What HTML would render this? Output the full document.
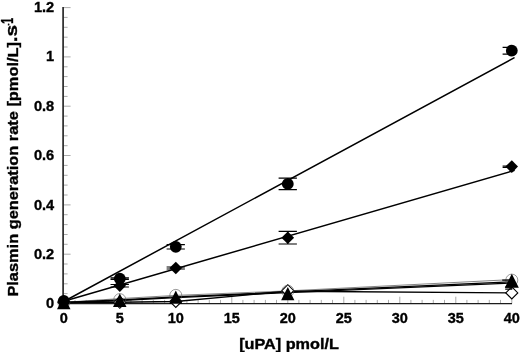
<!DOCTYPE html><html><head><meta charset="utf-8"><title>Plasmin generation rate</title>
<style>html,body{margin:0;padding:0;background:#fff;overflow:hidden}svg{display:block}text{font-family:"Liberation Sans",sans-serif;font-weight:bold;fill:#000;stroke:#000;stroke-width:0.35}</style></head><body>
<svg width="520" height="352" viewBox="0 0 520 352">
<rect width="520" height="352" fill="#fff"/>
<g stroke="#888" stroke-width="0.7">
<line x1="63.1" y1="303.5" x2="70.6" y2="303.5"/>
<line x1="63.1" y1="293.6" x2="67.6" y2="293.6"/>
<line x1="63.1" y1="283.8" x2="67.6" y2="283.8"/>
<line x1="63.1" y1="273.9" x2="67.6" y2="273.9"/>
<line x1="63.1" y1="264.0" x2="67.6" y2="264.0"/>
<line x1="63.1" y1="254.2" x2="70.6" y2="254.2"/>
<line x1="63.1" y1="244.3" x2="67.6" y2="244.3"/>
<line x1="63.1" y1="234.5" x2="67.6" y2="234.5"/>
<line x1="63.1" y1="224.6" x2="67.6" y2="224.6"/>
<line x1="63.1" y1="214.7" x2="67.6" y2="214.7"/>
<line x1="63.1" y1="204.9" x2="70.6" y2="204.9"/>
<line x1="63.1" y1="195.0" x2="67.6" y2="195.0"/>
<line x1="63.1" y1="185.1" x2="67.6" y2="185.1"/>
<line x1="63.1" y1="175.3" x2="67.6" y2="175.3"/>
<line x1="63.1" y1="165.4" x2="67.6" y2="165.4"/>
<line x1="63.1" y1="155.5" x2="70.6" y2="155.5"/>
<line x1="63.1" y1="145.7" x2="67.6" y2="145.7"/>
<line x1="63.1" y1="135.8" x2="67.6" y2="135.8"/>
<line x1="63.1" y1="125.9" x2="67.6" y2="125.9"/>
<line x1="63.1" y1="116.1" x2="67.6" y2="116.1"/>
<line x1="63.1" y1="106.2" x2="70.6" y2="106.2"/>
<line x1="63.1" y1="96.4" x2="67.6" y2="96.4"/>
<line x1="63.1" y1="86.5" x2="67.6" y2="86.5"/>
<line x1="63.1" y1="76.6" x2="67.6" y2="76.6"/>
<line x1="63.1" y1="66.8" x2="67.6" y2="66.8"/>
<line x1="63.1" y1="56.9" x2="70.6" y2="56.9"/>
<line x1="63.1" y1="47.0" x2="67.6" y2="47.0"/>
<line x1="63.1" y1="37.2" x2="67.6" y2="37.2"/>
<line x1="63.1" y1="27.3" x2="67.6" y2="27.3"/>
<line x1="63.1" y1="17.4" x2="67.6" y2="17.4"/>
<line x1="63.1" y1="7.6" x2="70.6" y2="7.6"/>
<line x1="63.8" y1="303.5" x2="63.8" y2="296.7"/>
<line x1="75.0" y1="303.5" x2="75.0" y2="299.9"/>
<line x1="86.2" y1="303.5" x2="86.2" y2="299.9"/>
<line x1="97.3" y1="303.5" x2="97.3" y2="299.9"/>
<line x1="108.5" y1="303.5" x2="108.5" y2="299.9"/>
<line x1="119.8" y1="303.5" x2="119.8" y2="296.7"/>
<line x1="130.9" y1="303.5" x2="130.9" y2="299.9"/>
<line x1="142.1" y1="303.5" x2="142.1" y2="299.9"/>
<line x1="153.3" y1="303.5" x2="153.3" y2="299.9"/>
<line x1="164.6" y1="303.5" x2="164.6" y2="299.9"/>
<line x1="175.8" y1="303.5" x2="175.8" y2="296.7"/>
<line x1="186.9" y1="303.5" x2="186.9" y2="299.9"/>
<line x1="198.1" y1="303.5" x2="198.1" y2="299.9"/>
<line x1="209.3" y1="303.5" x2="209.3" y2="299.9"/>
<line x1="220.5" y1="303.5" x2="220.5" y2="299.9"/>
<line x1="231.8" y1="303.5" x2="231.8" y2="296.7"/>
<line x1="242.9" y1="303.5" x2="242.9" y2="299.9"/>
<line x1="254.1" y1="303.5" x2="254.1" y2="299.9"/>
<line x1="265.4" y1="303.5" x2="265.4" y2="299.9"/>
<line x1="276.5" y1="303.5" x2="276.5" y2="299.9"/>
<line x1="287.8" y1="303.5" x2="287.8" y2="296.7"/>
<line x1="298.9" y1="303.5" x2="298.9" y2="299.9"/>
<line x1="310.1" y1="303.5" x2="310.1" y2="299.9"/>
<line x1="321.3" y1="303.5" x2="321.3" y2="299.9"/>
<line x1="332.5" y1="303.5" x2="332.5" y2="299.9"/>
<line x1="343.8" y1="303.5" x2="343.8" y2="296.7"/>
<line x1="354.9" y1="303.5" x2="354.9" y2="299.9"/>
<line x1="366.1" y1="303.5" x2="366.1" y2="299.9"/>
<line x1="377.3" y1="303.5" x2="377.3" y2="299.9"/>
<line x1="388.5" y1="303.5" x2="388.5" y2="299.9"/>
<line x1="399.8" y1="303.5" x2="399.8" y2="296.7"/>
<line x1="410.9" y1="303.5" x2="410.9" y2="299.9"/>
<line x1="422.1" y1="303.5" x2="422.1" y2="299.9"/>
<line x1="433.3" y1="303.5" x2="433.3" y2="299.9"/>
<line x1="444.5" y1="303.5" x2="444.5" y2="299.9"/>
<line x1="455.8" y1="303.5" x2="455.8" y2="296.7"/>
<line x1="466.9" y1="303.5" x2="466.9" y2="299.9"/>
<line x1="478.1" y1="303.5" x2="478.1" y2="299.9"/>
<line x1="489.3" y1="303.5" x2="489.3" y2="299.9"/>
<line x1="500.5" y1="303.5" x2="500.5" y2="299.9"/>
<line x1="511.8" y1="303.5" x2="511.8" y2="296.7"/>
</g>
<line x1="63.1" y1="7.1" x2="63.1" y2="304.3" stroke="#2a2a2a" stroke-width="1.7"/>
<line x1="62.3" y1="303.6" x2="512.0" y2="303.6" stroke="#1c1c1c" stroke-width="1.3"/>
<g font-size="14.6" text-anchor="end">
<text x="54.2" y="308.4">0</text>
<text x="54.2" y="259.0">0.2</text>
<text x="54.2" y="209.5">0.4</text>
<text x="54.2" y="160.1">0.6</text>
<text x="54.2" y="110.6">0.8</text>
<text x="54.2" y="61.2">1</text>
<text x="54.2" y="11.8">1.2</text>
</g>
<g font-size="14.5" text-anchor="middle">
<text x="63.8" y="322.6">0</text>
<text x="119.8" y="322.6">5</text>
<text x="175.8" y="322.6">10</text>
<text x="231.8" y="322.6">15</text>
<text x="287.8" y="322.6">20</text>
<text x="343.8" y="322.6">25</text>
<text x="399.8" y="322.6">30</text>
<text x="455.8" y="322.6">35</text>
<text x="511.8" y="322.6">40</text>
</g>
<text transform="translate(289,348.6) scale(1.12,1)" font-size="14.5" text-anchor="middle">[uPA] pmol/L</text>
<text transform="translate(17.7,296.6) rotate(-90) scale(1.129,1)" font-size="14.5">Plasmin generation rate [pmol/L]</text>
<text transform="translate(17.3,42.3) rotate(-90) scale(1.2,1)" font-size="17.3">.s</text>
<text transform="translate(13.3,25.6) rotate(-90) scale(0.62,1)" font-size="17"><tspan font-size="9" dy="-2">-</tspan><tspan dy="2">1</tspan></text>
<line x1="63.8" y1="301.5" x2="514.0" y2="57.9" stroke="#000" stroke-width="1.5" stroke-linecap="round"/>
<line x1="63.8" y1="301.3" x2="514.0" y2="170.5" stroke="#000" stroke-width="1.5" stroke-linecap="round"/>
<polyline points="63.8,302.3 119.8,298.6 175.8,295.4 287.8,290.9 511.8,279.6" fill="none" stroke="#666" stroke-width="0.8" stroke-linejoin="round"/>
<polyline points="63.8,302.5 119.8,300.0 175.8,296.8 287.8,291.9 511.8,281.8" fill="none" stroke="#000" stroke-width="1.3" stroke-linejoin="round"/>
<polyline points="63.8,303.0 119.8,300.5 175.8,297.6 287.8,292.6 511.8,283.0" fill="none" stroke="#000" stroke-width="1.3" stroke-linejoin="round"/>
<polyline points="63.8,302.3 119.8,302.3 175.8,301.5 287.8,291.2 511.8,292.9" fill="none" stroke="#000" stroke-width="1.4" stroke-linejoin="round"/>
<path d="M57.8 302.3L63.8 296.3L69.8 302.3L63.8 308.3Z" fill="#fff" stroke="#000" stroke-width="1.1"/>
<path d="M113.8 302.3L119.8 296.3L125.8 302.3L119.8 308.3Z" fill="#fff" stroke="#000" stroke-width="1.1"/>
<path d="M169.8 301.5L175.8 295.5L181.8 301.5L175.8 307.5Z" fill="#fff" stroke="#000" stroke-width="1.1"/>
<path d="M281.8 290.7L287.8 284.7L293.8 290.7L287.8 296.7Z" fill="#fff" stroke="#000" stroke-width="1.1"/>
<path d="M505.8 292.9L511.8 286.9L517.8 292.9L511.8 298.9Z" fill="#fff" stroke="#000" stroke-width="1.1"/>
<circle cx="63.8" cy="302.3" r="6.0" fill="none" stroke="#555" stroke-width="0.6"/>
<circle cx="119.8" cy="299.6" r="6.0" fill="none" stroke="#555" stroke-width="0.6"/>
<circle cx="175.8" cy="295.4" r="6.0" fill="none" stroke="#555" stroke-width="0.6"/>
<circle cx="287.8" cy="291.2" r="6.0" fill="none" stroke="#555" stroke-width="0.6"/>
<circle cx="511.8" cy="280.1" r="6.0" fill="none" stroke="#555" stroke-width="0.6"/>
<path d="M502.2 280.1H512.2M502.2 280.1H512.2M511.8 280.1V280.1" stroke="#000" stroke-width="1.2" fill="none"/>
<path d="M505.2 287.2H512.2M505.2 289.2H512.2M511.8 287.2V289.2" stroke="#000" stroke-width="1.2" fill="none"/>
<path d="M57.0 309.2L63.8 295.8L70.5 309.2Z" fill="#000"/>
<path d="M113.0 307.0L119.8 293.6L126.5 307.0Z" fill="#000"/>
<path d="M169.2 303.7L175.8 290.5L182.3 303.7Z" fill="#000"/>
<path d="M281.1 300.2L287.8 287.0L294.4 300.2Z" fill="#000"/>
<path d="M504.8 287.8L511.8 273.8L518.8 287.8Z" fill="#000"/>
<path d="M57.5 301.5L63.8 295.2L70.0 301.5L63.8 307.8Z" fill="#000"/>
<path d="M110.5 284.5H128.9M110.5 287.0H128.9M119.8 284.5V287.0" stroke="#000" stroke-width="1.2" fill="none"/>
<path d="M113.5 285.7L119.8 279.4L126.0 285.7L119.8 292.0Z" fill="#000"/>
<path d="M166.6 267.0H184.9M166.6 269.0H184.9M175.8 267.0V269.0" stroke="#000" stroke-width="1.2" fill="none"/>
<path d="M169.4 268.0L175.8 261.7L182.1 268.0L175.8 274.3Z" fill="#000"/>
<path d="M278.6 231.3H296.9M278.6 244.0H296.9M287.8 231.3V244.0" stroke="#000" stroke-width="1.2" fill="none"/>
<path d="M281.4 237.7L287.8 231.4L294.1 237.7L287.8 244.0Z" fill="#000"/>
<path d="M502.6 166.0H512.2M502.6 167.3H512.2M511.8 166.0V167.3" stroke="#000" stroke-width="1.2" fill="none"/>
<path d="M505.4 166.6L511.8 160.3L518.0 166.6L511.8 172.9Z" fill="#000"/>
<circle cx="63.8" cy="301.0" r="5.9" fill="#000"/>
<path d="M110.5 277.9H128.9M110.5 279.3H128.9M119.8 277.9V279.3" stroke="#000" stroke-width="1.2" fill="none"/>
<circle cx="119.8" cy="278.6" r="5.9" fill="#000"/>
<path d="M166.6 244.6H184.9M166.6 249.0H184.9M175.8 244.6V249.0" stroke="#000" stroke-width="1.2" fill="none"/>
<circle cx="175.8" cy="246.8" r="5.9" fill="#000"/>
<path d="M278.6 178.2H296.9M278.6 189.6H296.9M287.8 178.2V189.6" stroke="#000" stroke-width="1.2" fill="none"/>
<circle cx="287.8" cy="183.9" r="5.9" fill="#000"/>
<path d="M502.6 47.4H512.2M502.6 54.1H512.2M511.8 47.4V54.1" stroke="#000" stroke-width="1.2" fill="none"/>
<circle cx="511.8" cy="50.7" r="5.9" fill="#000"/>
</svg></body></html>
